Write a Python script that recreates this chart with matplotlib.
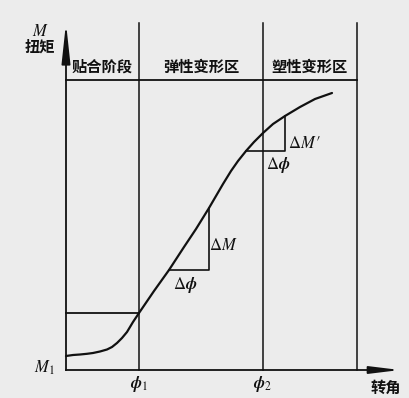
import matplotlib
matplotlib.use("Agg")
import matplotlib.pyplot as plt

plt.rcParams['font.family'] = ['Noto Sans CJK SC', 'DejaVu Sans']
plt.rcParams['mathtext.fontset'] = 'stix'

# Torque-rotation curve (rotation angle, torque), arbitrary units
rotation = [0, 7, 14, 21, 27, 34, 41, 46, 51, 56, 61, 67, 73, 88, 103, 118,
            130, 143, 150, 157, 165, 172, 180, 188, 197, 207, 219, 234, 249, 266]
torque = [14, 15, 15.5, 16.2, 17, 18.5, 20.5, 23, 27, 32, 38, 48, 57, 79, 100,
          123, 141, 162, 174, 186, 199, 209, 219, 228, 237, 246, 254, 263, 271, 277]

phi1 = 73          # end of the contact stage
phi2 = 197         # end of the elastic stage
phi_end = 291      # right edge of the plastic stage
M_phi1 = 57        # torque at phi1
header_y = 290     # stage-label band
axis_top = 347
axis_right = 334

stages = ["贴合阶段", "弹性变形区", "塑性变形区"]

# Two slope triangles: (phi start, phi end, M low, M high)
tri_elastic = (103, 143, 100, 162)
tri_plastic = (180, 219, 219, 254)

bg = '#ececec'
ink = '#111111'

fig = plt.figure(figsize=(4.09, 3.98), dpi=100, facecolor=bg)
ax = fig.add_axes([0, 0, 1, 1])
ax.set_facecolor(bg)
ax.set_xlim(-66, 343)
ax.set_ylim(-28, 370)
ax.axis('off')

lw = 1.1
# axes with arrows
ax.plot([0, 0], [0, axis_top - 28], color=ink, lw=1.3)
ax.annotate('', xy=(0, axis_top), xytext=(0, axis_top - 30),
            arrowprops=dict(arrowstyle='-|>,head_length=2.4,head_width=0.26',
                            color=ink, lw=1.3, shrinkA=0, shrinkB=0))
ax.plot([0, axis_right - 22], [0, 0], color=ink, lw=1.3)
ax.annotate('', xy=(axis_right, 0), xytext=(axis_right - 24, 0),
            arrowprops=dict(arrowstyle='-|>,head_length=1.8,head_width=0.22',
                            color=ink, lw=1.3, shrinkA=0, shrinkB=0))

# stage boundaries and header band
for xv in (phi1, phi2, phi_end):
    ax.plot([xv, xv], [0, axis_top], color=ink, lw=lw)
ax.plot([0, phi_end], [header_y, header_y], color=ink, lw=1.3)

# plateau line at phi1
ax.plot([0, phi1], [M_phi1, M_phi1], color=ink, lw=1.3)

# torque curve
ax.plot(rotation, torque, color=ink, lw=1.6, solid_capstyle='round',
        solid_joinstyle='round')

# slope triangles
for (x0, x1, y0, y1) in (tri_elastic, tri_plastic):
    ax.plot([x0, x1, x1], [y0, y0, y1], color=ink, lw=1.2)

# stage labels
bounds = [0, phi1, phi2, phi_end]
for i, s in enumerate(stages):
    ax.text((bounds[i] + bounds[i + 1]) / 2, 303, s, ha='center', va='center',
            fontsize=11, color=ink, fontweight='bold')

ax.text(-26, 338, '$M$', ha='center', va='center', fontsize=12, color=ink)
ax.text(-26, 323, '扭矩', ha='center', va='center', fontsize=11, color=ink,
        fontweight='bold')
ax.text(-22, 2, '$M_1$', ha='center', va='center', fontsize=12, color=ink)
ax.text(phi1, -14, r'$\boldsymbol{\phi}_1$', ha='center', va='center', fontsize=12, color=ink)
ax.text(phi2, -14, r'$\boldsymbol{\phi}_2$', ha='center', va='center', fontsize=12, color=ink)
ax.text(320, -18, '转角', ha='center', va='center', fontsize=11, color=ink,
        fontweight='bold')

ax.text(119, 85, r'$\Delta\boldsymbol{\phi}$', ha='center', va='center', fontsize=12, color=ink)
ax.text(157, 125, r'$\Delta M$', ha='center', va='center', fontsize=12, color=ink)
ax.text(212, 205, r'$\Delta\boldsymbol{\phi}$', ha='center', va='center', fontsize=12, color=ink)
ax.text(239, 226, r"$\Delta M\,\prime$", ha='center', va='center', fontsize=12, color=ink)

fig.savefig('out.png', dpi=100, facecolor=bg)
